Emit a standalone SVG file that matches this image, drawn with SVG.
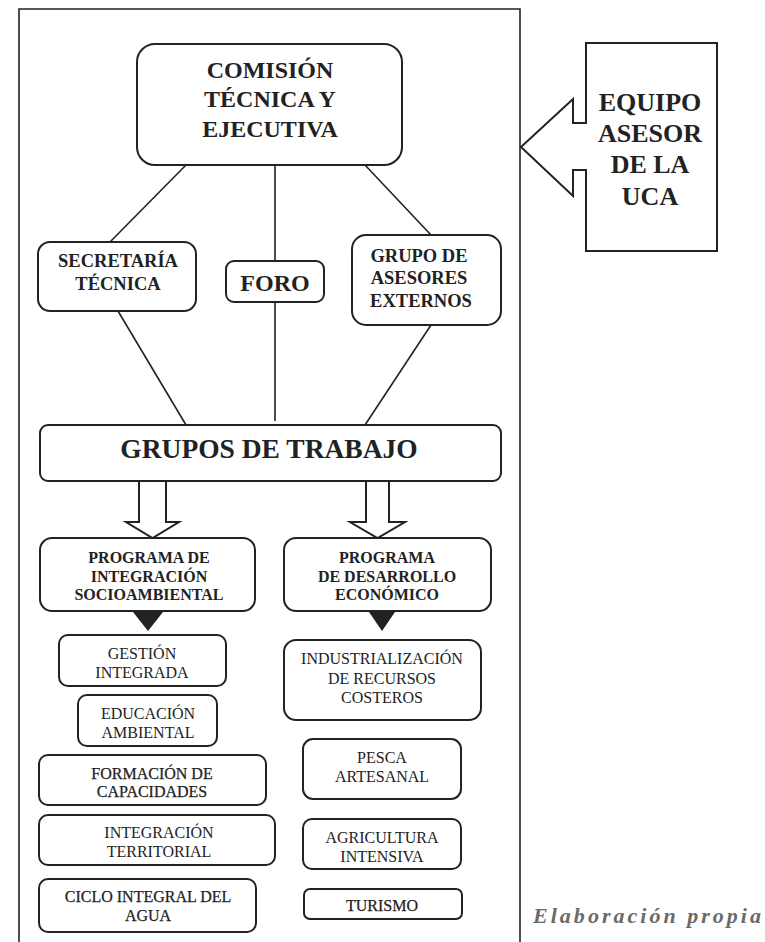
<svg xmlns="http://www.w3.org/2000/svg" width="765" height="942" viewBox="0 0 765 942">
<style>
.box{fill:#fff;stroke:#222;stroke-width:2}
.ln{stroke:#222;stroke-width:1.6;fill:none}
.tb{font-family:"Liberation Serif","Times New Roman",serif;font-weight:bold;fill:#222;text-anchor:middle}
.tr{font-family:"Liberation Serif","Times New Roman",serif;fill:#222;text-anchor:middle;font-size:16px}
.dk{stroke:#222;stroke-width:0.25}
</style>
<rect width="765" height="942" fill="#fff"/>
<path d="M19,942 V9 H520 V942" class="ln" stroke-width="2"/>
<g id="connectors">
<line class="ln" x1="186" y1="165" x2="110" y2="242"/>
<line class="ln" x1="275" y1="165" x2="275" y2="261"/>
<line class="ln" x1="365" y1="165" x2="431" y2="235"/>
<line class="ln" x1="118" y1="311" x2="186" y2="425"/>
<line class="ln" x1="275" y1="302" x2="275" y2="421"/>
<line class="ln" x1="431" y1="325" x2="365" y2="425"/>
<polygon class="box" stroke-width="1.6" points="139,481 139,522 126,522 152.5,538 179,522 166,522 166,481"/>
<polygon class="box" stroke-width="1.6" points="366,481 366,522 350,522 377.5,538 405,522 389,522 389,481"/>
<polygon fill="#222" points="133,612 163,612 148,631"/>
<polygon fill="#222" points="369,612 395,612 382,631"/>
</g>
<g id="equipo">
<path class="box" stroke-width="1.8" d="M586,43 H717 V251 H586 V170 H573 V196 L521,147 L573,99 V123 H586 Z"/>
<text class="tb" font-size="26" x="650"><tspan x="650" y="111">EQUIPO</tspan><tspan x="650" y="142">ASESOR</tspan><tspan x="650" y="173">DE LA</tspan><tspan x="650" y="205">UCA</tspan></text>
</g>
<g id="comision">
<rect class="box" x="137" y="44" width="265" height="121" rx="18"/>
<text class="tb" font-size="24"><tspan x="270" y="78">COMISIÓN</tspan><tspan x="270" y="107">TÉCNICA Y</tspan><tspan x="270" y="137">EJECUTIVA</tspan></text>
</g>
<g id="secretaria">
<rect class="box" x="38" y="242" width="158" height="69" rx="12"/>
<text class="tb" font-size="18.5"><tspan x="118" y="267">SECRETARÍA</tspan><tspan x="118" y="290">TÉCNICA</tspan></text>
</g>
<g id="foro">
<rect class="box" x="226" y="261" width="98" height="41" rx="8"/>
<text class="tb" font-size="24" x="275" y="291">FORO</text>
</g>
<g id="asesores">
<rect class="box" x="352" y="235" width="149" height="90" rx="14"/>
<text class="tb" font-size="18.5"><tspan x="419" y="262">GRUPO DE</tspan><tspan x="419" y="284">ASESORES</tspan><tspan x="421" y="307">EXTERNOS</tspan></text>
</g>
<g id="grupos">
<rect class="box" x="40" y="425" width="461" height="56" rx="8"/>
<text class="tb" font-size="27.5" x="269" y="458">GRUPOS DE TRABAJO</text>
</g>
<g id="prog-socio">
<rect class="box" x="40" y="538" width="215" height="73" rx="12"/>
<text class="tb" font-size="16"><tspan x="149" y="563">PROGRAMA DE</tspan><tspan x="149" y="581.5">INTEGRACIÓN</tspan><tspan x="149" y="600">SOCIOAMBIENTAL</tspan></text>
</g>
<g id="prog-eco">
<rect class="box" x="284" y="538" width="207" height="73" rx="12"/>
<text class="tb" font-size="16"><tspan x="387" y="563">PROGRAMA</tspan><tspan x="387" y="581.5">DE DESARROLLO</tspan><tspan x="387" y="600">ECONÓMICO</tspan></text>
</g>
<g id="gestion">
<rect class="box" x="59" y="635" width="167" height="51" rx="9"/>
<text class="tr"><tspan x="142" y="659">GESTIÓN</tspan><tspan x="142" y="678">INTEGRADA</tspan></text>
</g>
<g id="educacion">
<rect class="box" x="78" y="695" width="139" height="51" rx="9"/>
<text class="tr"><tspan x="148" y="719">EDUCACIÓN</tspan><tspan x="148" y="738">AMBIENTAL</tspan></text>
</g>
<g id="formacion">
<rect class="box" x="39" y="755" width="227" height="50" rx="9"/>
<text class="tr dk"><tspan x="152" y="779">FORMACIÓN DE</tspan><tspan x="152" y="797">CAPACIDADES</tspan></text>
</g>
<g id="integracion">
<rect class="box" x="39" y="815" width="236" height="50" rx="9"/>
<text class="tr"><tspan x="159" y="838">INTEGRACIÓN</tspan><tspan x="159" y="857">TERRITORIAL</tspan></text>
</g>
<g id="ciclo">
<rect class="box" x="39" y="879" width="217" height="53" rx="9"/>
<text class="tr dk"><tspan x="148" y="902">CICLO INTEGRAL DEL</tspan><tspan x="148" y="921">AGUA</tspan></text>
</g>
<g id="industrializacion">
<rect class="box" x="284" y="640" width="197" height="80" rx="12"/>
<text class="tr"><tspan x="382" y="664">INDUSTRIALIZACIÓN</tspan><tspan x="382" y="683.5">DE RECURSOS</tspan><tspan x="382" y="703">COSTEROS</tspan></text>
</g>
<g id="pesca">
<rect class="box" x="303" y="739" width="158" height="60" rx="10"/>
<text class="tr"><tspan x="382" y="763">PESCA</tspan><tspan x="382" y="782">ARTESANAL</tspan></text>
</g>
<g id="agricultura">
<rect class="box" x="303" y="819" width="158" height="50" rx="9"/>
<text class="tr"><tspan x="382" y="843">AGRICULTURA</tspan><tspan x="382" y="862">INTENSIVA</tspan></text>
</g>
<g id="turismo">
<rect class="box" x="304" y="889" width="158" height="30" rx="6"/>
<text class="tr dk" x="382" y="910.5">TURISMO</text>
</g>
<text x="533" y="923" font-family="Liberation Serif, serif" font-style="italic" font-weight="bold" font-size="22" fill="#6a6a6a" textLength="228" lengthAdjust="spacing">Elaboración propia</text>
</svg>
